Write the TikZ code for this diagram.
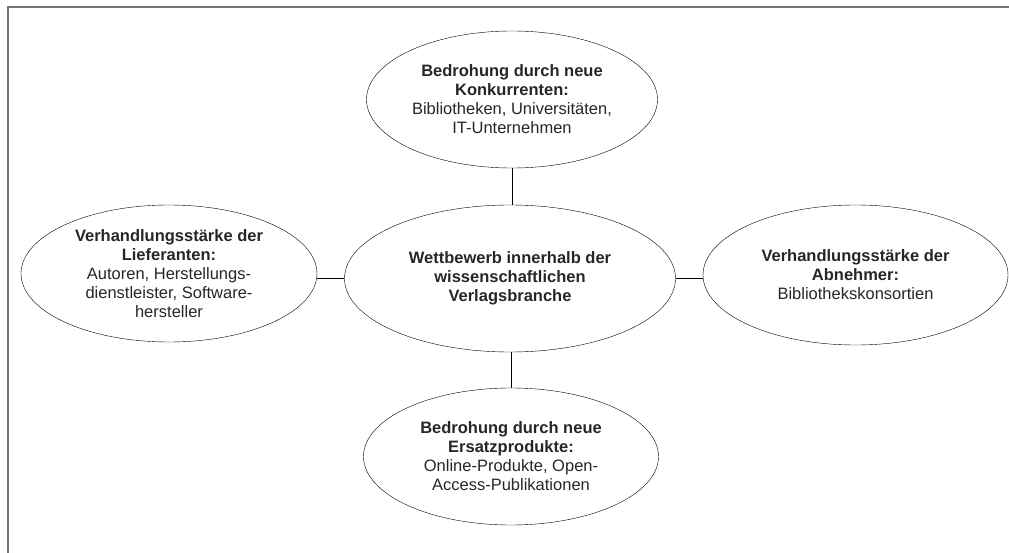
\documentclass[tikz,border=0pt]{standalone}
\usepackage{fontspec}
\setmainfont{Liberation Sans}
\usetikzlibrary{shapes.geometric}

\begin{document}
\begin{tikzpicture}[x=1pt,y=-1pt,
  kraft/.style={draw,ellipse,inner sep=0pt,align=center,text=black!85,
    font=\fontsize{16.5}{19}\selectfont}]
  \useasboundingbox (0,0) rectangle (1009,553);
  \draw [black!55, line width=1.6pt] (8,553) -- (8,7) -- (1009,7);
  \node [kraft,minimum width=331,minimum height=147] (markt) at (510,278.5)
    {\textbf{Wettbewerb innerhalb der}\\\textbf{wissenschaftlichen}\\\textbf{Verlagsbranche}};
  \node [kraft,minimum width=291,minimum height=137] (neu) at (512,99.5)
    {\textbf{Bedrohung durch neue}\\\textbf{Konkurrenten:}\\Bibliotheken, Universitäten,\\IT-Unternehmen};
  \node [kraft,minimum width=296,minimum height=137] (lief) at (169,273.5)
    {\textbf{Verhandlungsstärke der}\\\textbf{Lieferanten:}\\Autoren, Herstellungs-\\dienstleister, Software-\\hersteller};
  \node [kraft,minimum width=305,minimum height=140] (abn) at (855.5,275)
    {\textbf{Verhandlungsstärke der}\\\textbf{Abnehmer:}\\Bibliothekskonsortien};
  \node [kraft,minimum width=295,minimum height=137] (ersatz) at (511,456.5)
    {\textbf{Bedrohung durch neue}\\\textbf{Ersatzprodukte:}\\Online-Produkte, Open-\\Access-Publikationen};
  \draw (neu.south) -- (neu.south |- markt.north);
  \draw (ersatz.north) -- (ersatz.north |- markt.south);
  \draw (markt.west) -- (markt.west -| lief.east);
  \draw (markt.east) -- (markt.east -| abn.west);
\end{tikzpicture}
\end{document}
